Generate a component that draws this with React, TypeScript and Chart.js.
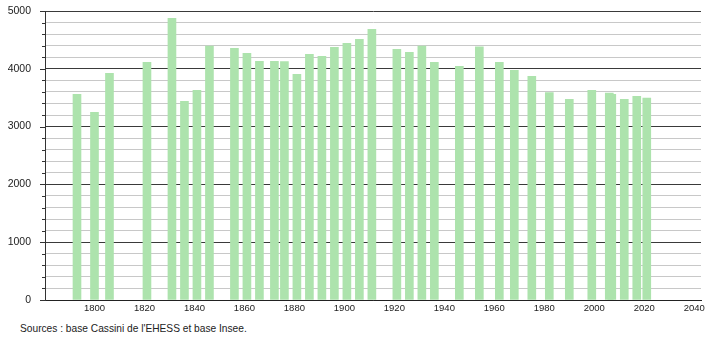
import React, { useEffect, useRef } from "react";
import { Chart, registerables } from "chart.js";

Chart.register(...registerables);

const years = [
  1793, 1800, 1806, 1821, 1831, 1836, 1841, 1846, 1856, 1861, 1866, 1872, 1876,
  1881, 1886, 1891, 1896, 1901, 1906, 1911, 1921, 1926, 1931, 1936, 1946, 1954,
  1962, 1968, 1975, 1982, 1990, 1999, 2006, 2007, 2012, 2017, 2021,
];
const population = [
  3560, 3249, 3923, 4113, 4873, 3439, 3629, 4395, 4355, 4268, 4130, 4130, 4124,
  3905, 4251, 4216, 4372, 4441, 4510, 4683, 4337, 4286, 4395, 4113, 4044, 4378,
  4113, 3974, 3871, 3589, 3473, 3629, 3582, 3560, 3473, 3525, 3494,
];
const xTickLabels = [1800, 1820, 1840, 1860, 1880, 1900, 1920, 1940, 1960, 1980, 2000, 2020, 2040];
const yMax = 5000;
const yMinorStep = 200;
const yMajorStep = 1000;
const sourceText = "Sources : base Cassini de l'EHESS et base Insee.";

const FONT = "'Liberation Sans', Arial, sans-serif";

const yTickMarks = {
  id: "yTickMarks",
  afterDraw(chart: any) {
    const y = chart.scales.y;
    const ctx = chart.ctx;
    ctx.save();
    ctx.strokeStyle = "#333";
    ctx.lineWidth = 1;
    y.ticks.forEach((t: any) => {
      const py = Math.round(y.getPixelForValue(t.value)) + 0.5;
      const len = t.value % yMajorStep === 0 ? 5 : 3;
      ctx.beginPath();
      ctx.moveTo(chart.chartArea.left - len, py);
      ctx.lineTo(chart.chartArea.left, py);
      ctx.stroke();
    });
    ctx.restore();
  },
};

export default function App() {
  const ref = useRef<HTMLCanvasElement>(null);
  useEffect(() => {
    if (!ref.current) return;
    const chart = new Chart(ref.current, {
      type: "bar",
      data: {
        datasets: [
          {
            data: years.map((yr, i) => ({ x: yr, y: population[i] })),
            backgroundColor: "#ade3ad",
            borderWidth: 0,
            barThickness: 8,
          } as any,
        ],
      },
      options: {
        responsive: false,
        animation: false,
        layout: { padding: { top: 11, right: 9, left: 0, bottom: 0 } },
        plugins: { legend: { display: false }, tooltip: { enabled: false }, title: { display: false } },
        scales: {
          x: {
            type: "linear",
            min: 1780.2,
            max: 2042.7,
            offset: false,
            afterBuildTicks: (scale: any) => {
              scale.ticks = xTickLabels.map((v) => ({ value: v }));
            },
            afterFit: (scale: any) => {
              scale.height = 16;
            },
            grid: { display: false, drawTicks: false },
            border: { display: true, color: "#222", width: 1 },
            ticks: {
              padding: 3,
              maxRotation: 0,
              autoSkip: false,
              color: "#222",
              font: { family: FONT, size: 9.5 },
              callback: (v: any) => String(v),
            },
          },
          y: {
            type: "linear",
            min: 0,
            max: yMax,
            afterFit: (scale: any) => {
              scale.width = 45;
            },
            grid: {
              drawTicks: true,
              tickLength: 14,
              tickColor: "rgba(0,0,0,0)",
              color: (c: any) => (c.tick && c.tick.value % yMajorStep === 0 ? "#3a3a3a" : "#c8c8c8"),
              lineWidth: 1,
            },
            border: { display: true, color: "#333", width: 1 },
            ticks: {
              stepSize: yMinorStep,
              padding: 0,
              autoSkip: false,
              color: "#222",
              font: { family: FONT, size: 10.5 },
              callback: (v: any) => (Number(v) % yMajorStep === 0 ? String(v) : ""),
            },
          },
        },
      },
      plugins: [yTickMarks],
    });
    return () => chart.destroy();
  }, []);

  return (
    <div style={{ position: "fixed", left: 0, top: 0, width: 710, height: 340, background: "#fff" }}>
      <canvas ref={ref} width={710} height={316} style={{ display: "block" }} />
      <div
        style={{
          position: "absolute",
          left: 20,
          top: 322,
          fontFamily: FONT,
          fontSize: 10.2,
          lineHeight: "14px",
          color: "#222",
          whiteSpace: "nowrap",
        }}
      >
        {sourceText}
      </div>
    </div>
  );
}
